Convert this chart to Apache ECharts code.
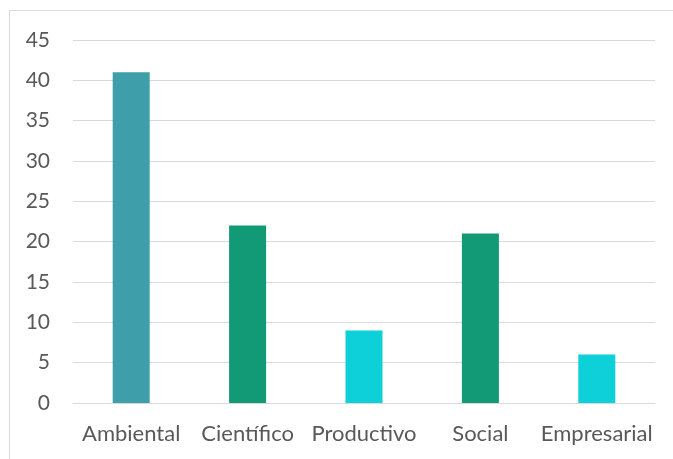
<!DOCTYPE html>
<html>
<head>
<meta charset="utf-8">
<script src="https://cdn.jsdelivr.net/npm/echarts@6/dist/echarts.min.js"></script>
<style>
  html, body { margin: 0; padding: 0; background: #fff; }
  #frame { position: absolute; left: 9px; top: 10px; width: 700px; height: 470px; border: 1px solid #d9d9d9; box-sizing: border-box; }
  #chart { position: absolute; left: 0; top: 0; width: 673px; height: 459px; }
</style>
</head>
<body>
<div id="frame"></div>
<div id="chart"></div>
<script>
var categories = ['Ambiental', 'Científico', 'Productivo', 'Social', 'Empresarial']
var values = [41, 22, 9, 21, 6]
var barColors = ['#3e9eaa', '#119a75', '#0dd0d9', '#119a75', '#0dd0d9']
var yTicks = { min: 0, max: 45, interval: 5 }

var chart = echarts.init(document.getElementById('chart'))
var option = {
  animation: false,
  grid: { left: 73, right: 18, top: 40, bottom: 56 },
  xAxis: {
    type: 'category',
    data: categories,
    axisLine: { lineStyle: { color: '#d9d9d9', width: 1 } },
    axisTick: { show: false },
    axisLabel: { interval: 0, color: '#595959', fontSize: 22, fontFamily: 'Lato', margin: 20 }
  },
  yAxis: {
    type: 'value',
    min: yTicks.min,
    max: yTicks.max,
    interval: yTicks.interval,
    axisLine: { show: false },
    axisTick: { show: false },
    splitLine: { lineStyle: { color: '#d9d9d9', width: 1 } },
    axisLabel: { color: '#595959', fontSize: 21, fontFamily: 'Lato', margin: 23 }
  },
  series: [{
    type: 'bar',
    barWidth: 37,
    data: values.map(function (v, i) {
      return { value: v, itemStyle: { color: barColors[i] } }
    })
  }]
}
chart.setOption(option)
</script>
</body>
</html>
